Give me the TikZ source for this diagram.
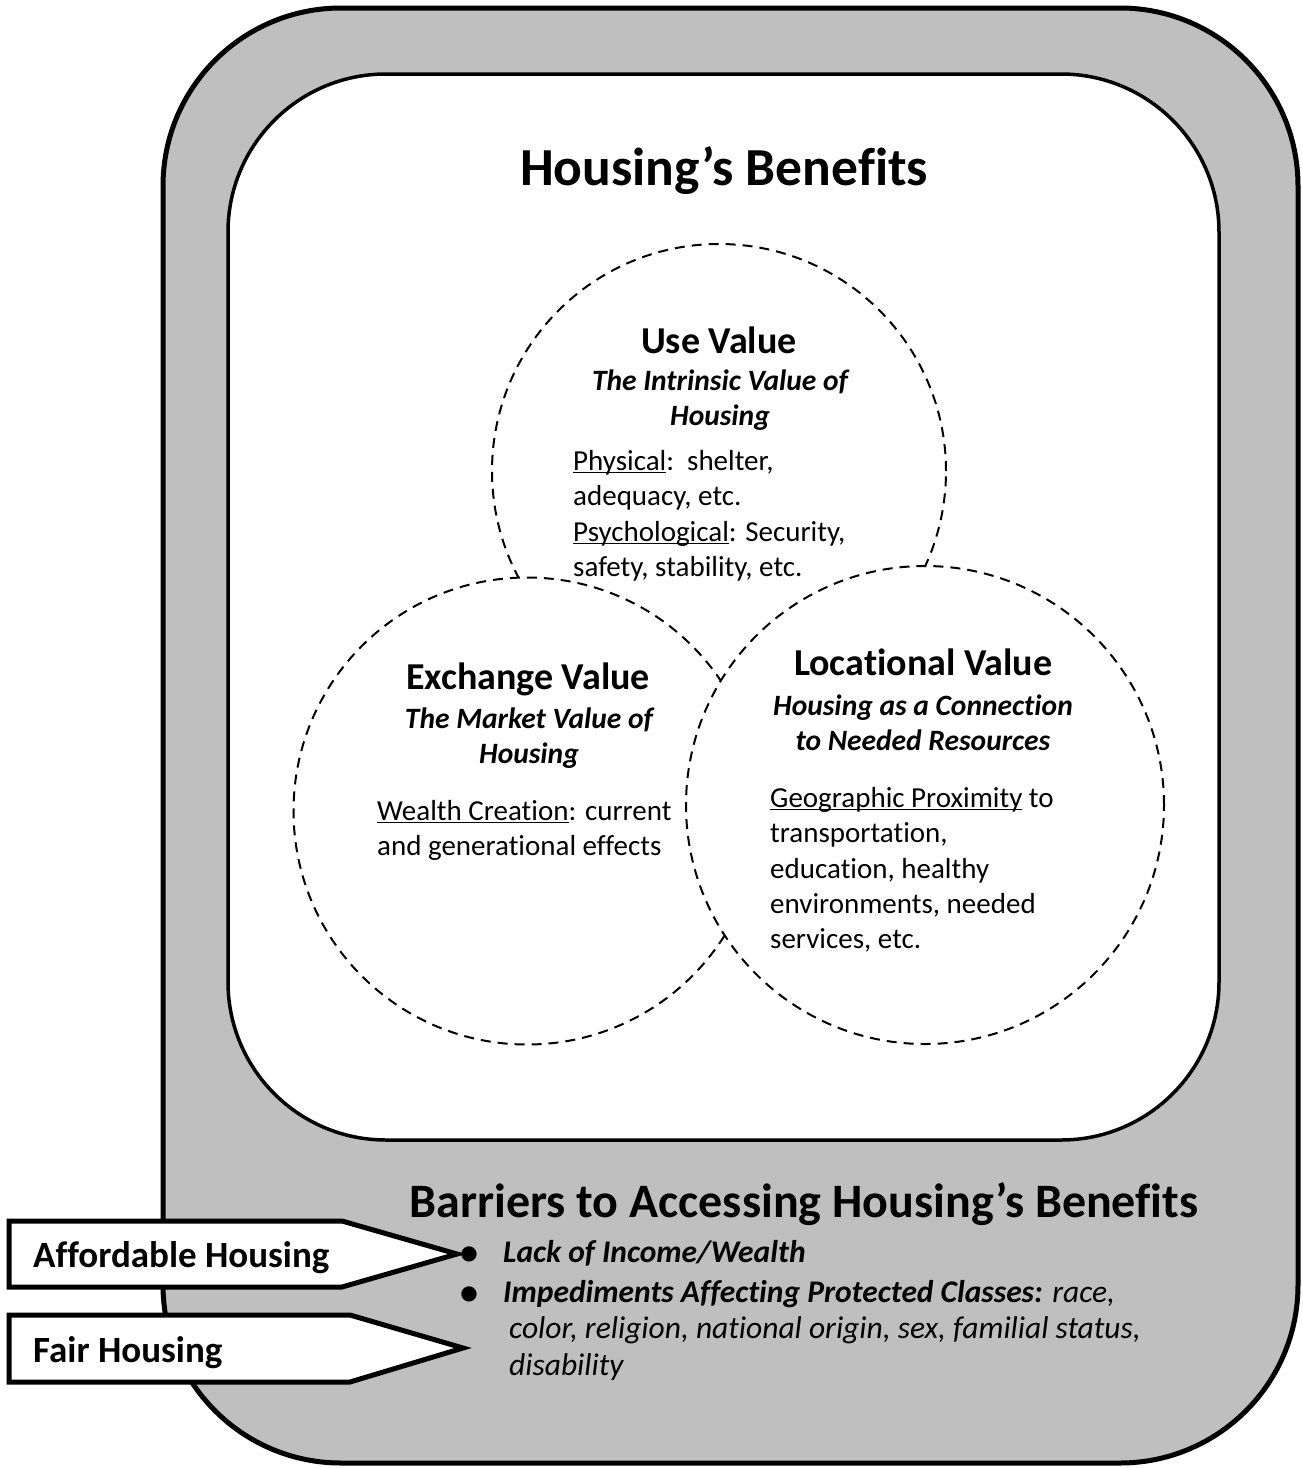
\documentclass[tikz,border=0pt]{standalone}
\usepackage{fontspec}
\setmainfont{Carlito}[Ligatures=NoCommon]
\newcommand{\ulword}[1]{{\setbox0\hbox{#1}\rlap{\rule[-3.4pt]{\wd0}{1.4pt}}\box0}}
\definecolor{panelgray}{RGB}{191,191,191}
\tikzset{
  outerpanel/.style={draw=black, line width=5pt, fill=panelgray, rounded corners=178pt},
  innerpanel/.style={draw=black, line width=3.5pt, fill=white, rounded corners=158pt},
  valuecircle/.style={draw=black, fill=white, line width=2pt, dash pattern=on 10pt off 7pt},
  tagshape/.style={draw=black, line width=5pt, fill=white, line join=miter},
  bigtitle/.style={inner sep=0pt, anchor=base, font=\fontsize{53.5}{60}\selectfont\bfseries},
  headtext/.style={inner sep=0pt, anchor=base, font=\fontsize{38}{44}\selectfont\bfseries},
  subtext/.style={inner sep=0pt, anchor=base, font=\fontsize{29.5}{35}\selectfont\bfseries\itshape},
  bodytext/.style={inner sep=0pt, anchor=base west, font=\fontsize{29}{35}\selectfont},
  tagtext/.style={inner sep=0pt, anchor=base west, font=\fontsize{37}{42}\selectfont\bfseries},
  bartext/.style={inner sep=0pt, anchor=base west, font=\fontsize{31.5}{37}\selectfont\itshape},
  bulletmark/.style={inner sep=0pt, anchor=base, font=\fontsize{36}{40}\selectfont\bfseries},
}
\begin{document}
\begin{tikzpicture}[x=1pt, y=-1pt]
\useasboundingbox (0,0) rectangle (1303,1468);

% panels
\path[outerpanel] (163,8) rectangle (1298,1463);
\path[innerpanel] (228,74) rectangle (1219,1140);

% title
\node[bigtitle] (title) at (724,185) {Housing’s Benefits};

% the three value circles (later ones cover earlier ones)
\node[valuecircle, circle, minimum size=454pt, inner sep=0pt] (usec) at (719,471) {};
\node[valuecircle, circle, minimum size=467pt, inner sep=0pt] (exchc) at (527,811) {};
\node[valuecircle, circle, minimum size=478pt, inner sep=0pt] (locc) at (925,805) {};

% use value
\node[headtext] (useh) at (719,353) {Use Value};
\node[subtext] (uses1) at (720,390) {The Intrinsic Value of};
\node[subtext] (uses2) at (720,425) {Housing};
\node[bodytext] (useb1) at (573,470) {\ulword{Physical}:\ \ shelter,};
\node[bodytext] (useb2) at (573,505) {adequacy, etc.};
\node[bodytext] (useb3) at (573,541) {\ulword{Psychological}: Security,};
\node[bodytext] (useb4) at (573,576) {safety, stability, etc.};

% exchange value
\node[headtext] (exh) at (528,689) {Exchange Value};
\node[subtext] (exs1) at (529,728) {The Market Value of};
\node[subtext] (exs2) at (529,763) {Housing};
\node[bodytext] (exb1) at (377,820) {\ulword{Wealth Creation}: current};
\node[bodytext] (exb2) at (377,855) {and generational effects};

% locational value
\node[headtext] (loch) at (923,675) {Locational Value};
\node[subtext] (locs1) at (923,715) {Housing as a Connection};
\node[subtext] (locs2) at (923,750) {to Needed Resources};
\node[bodytext] (locb1) at (770,807) {\ulword{Geographic Proximity} to};
\node[bodytext] (locb2) at (770,842) {transportation,};
\node[bodytext] (locb3) at (770,878) {education, healthy};
\node[bodytext] (locb4) at (770,913) {environments, needed};
\node[bodytext] (locb5) at (770,948) {services, etc.};

% barriers
\node[bigtitle, font=\fontsize{48}{56}\selectfont\bfseries] (bartitle) at (804,1217) {Barriers to Accessing Housing’s Benefits};
\node[bulletmark] (bul1) at (469,1264) {•};
\node[bartext] (bar1) at (503,1262) {\bfseries Lack of Income/Wealth};
\node[bulletmark] (bul2) at (469,1304) {•};
\node[bartext] (bar2) at (503,1302) {{\bfseries Impediments Affecting Protected Classes:} race,};
\node[bartext] (bar3) at (509,1338) {color, religion, national origin, sex, familial status,};
\node[bartext] (bar4) at (509,1375) {disability};

% pointer tags
\path[tagshape] (9,1221) -- (342,1221) -- (457,1254) -- (342,1287) -- (9,1287) -- cycle;
\path[tagshape] (9,1315) -- (350,1315) -- (463,1348) -- (350,1382) -- (9,1382) -- cycle;
\node[tagtext] (afford) at (33,1267) {Affordable Housing};
\node[tagtext] (fair) at (33,1362) {Fair Housing};
\end{tikzpicture}
\end{document}
